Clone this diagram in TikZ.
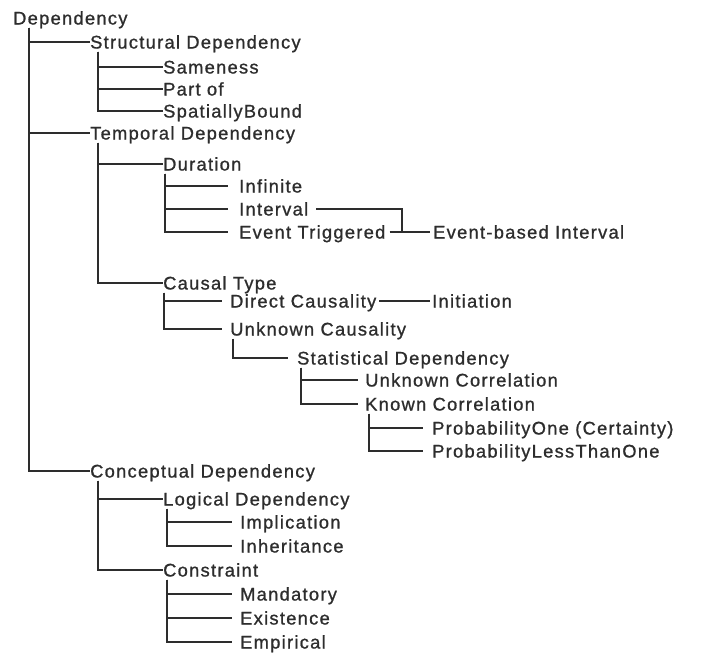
\documentclass[tikz,border=0pt]{standalone}
\usepackage{fontspec}
\setmainfont{Liberation Sans}[LetterSpace=7,FakeBold=1]
\usepackage{tikz}
\usetikzlibrary{calc}
\definecolor{ink}{RGB}{45,45,45}
\tikzset{
  lbl/.style={anchor=west,inner sep=0pt,text height=13pt,text depth=0pt,font=\fontsize{18.3}{22}\selectfont,text=ink},
  ln/.style={draw=ink,line width=1.6pt,shorten <=3pt},
}
\begin{document}
\begin{tikzpicture}[x=1pt,y=-1pt]
\useasboundingbox (0,0) rectangle (720,653);
% top levels
\node[lbl] (dep) at (13,18) {Dependency};
\node[lbl] (sd) at (90,42) {Structural Dependency};
\node[lbl] (td) at (90,133) {Temporal Dependency};
\node[lbl] (cd) at (90,471) {Conceptual Dependency};
\foreach \c in {sd,td,cd} \draw[ln] ([xshift=16pt]dep.south west) |- (\c.west);
% structural
\node[lbl] (sam) at (163,67) {Sameness}; \node[lbl] (prt) at (163,89) {Part of}; \node[lbl] (spb) at (163,111) {SpatiallyBound};
\foreach \c in {sam,prt,spb} \draw[ln] ([xshift=8pt]sd.south west) |- (\c.west);
% temporal
\node[lbl] (dur) at (163,164) {Duration}; \node[lbl] (cau) at (163,283) {Causal Type};
\foreach \c in {dur,cau} \draw[ln] ([xshift=8pt]td.south west) |- (\c.west);
\node[lbl] (inf) at (239,186) {Infinite}; \node[lbl] (itv) at (239,209) {Interval}; \node[lbl] (evt) at (239,232) {Event Triggered};
\foreach \c in {inf,itv,evt} \draw[ln,shorten >=11pt] ([xshift=2pt]dur.south west) |- (\c.west);
\node[lbl] (ebi) at (433,232) {Event-based Interval};
\coordinate (merge) at (402,232);
\draw[ln,shorten <=8pt] (itv.east) -| (merge); \draw[ln,shorten <=4pt,shorten >=3pt] (evt.east) -- (ebi.west);
\node[lbl] (dir) at (230,301) {Direct Causality}; \node[lbl] (unk) at (230,329) {Unknown Causality};
\foreach \c in {dir,unk} \draw[ln,shorten >=8pt] ([xshift=1pt]cau.south west) |- (\c.west);
\node[lbl] (ini) at (432,301) {Initiation};
\draw[ln,shorten >=2pt] (dir.east) -- (ini.west);
\node[lbl] (stat) at (297,358) {Statistical Dependency};
\draw[ln,shorten >=9pt] ([xshift=3pt]unk.south west) |- (stat.west);
\node[lbl] (ucor) at (365,380) {Unknown Correlation}; \node[lbl] (kcor) at (365,404) {Known Correlation};
\foreach \c in {ucor,kcor} \draw[ln,shorten >=7pt] ([xshift=4pt]stat.south west) |- (\c.west);
\node[lbl] (po) at (432,428) {ProbabilityOne (Certainty)}; \node[lbl] (plt) at (432,451) {ProbabilityLessThanOne};
\foreach \c in {po,plt} \draw[ln,shorten >=9pt] ([xshift=4pt]kcor.south west) |- (\c.west);
% conceptual
\node[lbl] (log) at (163,499) {Logical Dependency}; \node[lbl] (con) at (163,570) {Constraint};
\foreach \c in {log,con} \draw[ln] ([xshift=8pt]cd.south west) |- (\c.west);
\node[lbl] (imp) at (240,522) {Implication}; \node[lbl] (inh) at (240,546) {Inheritance};
\foreach \c in {imp,inh} \draw[ln,shorten >=8pt] ([xshift=4pt]log.south west) |- (\c.west);
\node[lbl] (man) at (240,594) {Mandatory}; \node[lbl] (exi) at (240,618) {Existence}; \node[lbl] (emp) at (240,642) {Empirical};
\foreach \c in {man,exi,emp} \draw[ln,shorten >=8pt] ([xshift=4pt]con.south west) |- (\c.west);
\end{tikzpicture}
\end{document}
